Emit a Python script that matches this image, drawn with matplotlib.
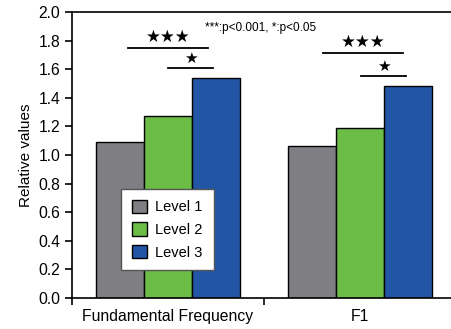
import numpy as np
import matplotlib.pyplot as plt

plt.rcParams['font.family'] = ['Liberation Sans', 'DejaVu Sans']

categories = ["Fundamental Frequency", "F1"]
levels = ["Level 1", "Level 2", "Level 3"]
values = [[1.09, 1.06],   # Level 1
          [1.27, 1.19],   # Level 2
          [1.54, 1.48]]   # Level 3
colors = ["#7f7f83", "#6cbd45", "#2256a5"]

# significance brackets: (x0, x1, y, label)
sig_lines = [(-0.21, 0.21, 1.75, "★★★"),
             (0.0, 0.235, 1.61, "★"),
             (0.805, 1.225, 1.71, "★★★"),
             (1.005, 1.24, 1.555, "★")]
note = "***:p<0.001, *:p<0.05"

fig = plt.figure(figsize=(4.51, 3.29), dpi=100)
ax = fig.add_axes([72/451, 31/329, 384/451, 286/329])

x = np.arange(len(categories))
w = 0.25
for i, lev in enumerate(levels):
    ax.bar(x + (i - 1)*w, values[i], w, color=colors[i], edgecolor="black",
           linewidth=1, label=lev)

for x0, x1, y, lab in sig_lines:
    ax.plot([x0, x1], [y, y], color="black", lw=1.3)
    ax.text((x0 + x1)/2, y + 0.015, lab, ha="center", va="bottom",
            fontsize=12 if len(lab) > 1 else 11, family="DejaVu Sans")

ax.text(0.195, 1.89, note, ha="left", va="center", fontsize=8.5)

ax.set_xlim(-0.5, 1.5)
ax.set_ylim(0, 2.0)
ax.set_yticks(np.arange(0, 2.01, 0.2))
ax.set_yticklabels([f"{v:.1f}" for v in np.arange(0, 2.01, 0.2)], fontsize=11.3)
ax.set_xticks(x)
ax.set_xticklabels(categories, fontsize=11.3)
ax.tick_params(axis="x", which="major", length=0, pad=8)
ax.set_xticks([-0.5, 0.5, 1.5], minor=True)
ax.tick_params(axis="x", which="minor", length=5, width=1.2, direction="out")
ax.tick_params(axis="y", length=5, width=1.2, direction="out")
ax.spines["right"].set_visible(False)
for s in ["left", "bottom", "top"]:
    ax.spines[s].set_linewidth(1.2)
ax.set_ylabel("Relative values", fontsize=11)

leg = ax.legend(loc="upper left", bbox_to_anchor=(121/451, 1 - 189/329),
                bbox_transform=fig.transFigure, fancybox=False, fontsize=10.5,
                handlelength=1.0, handleheight=1.0, handletextpad=0.6,
                framealpha=1, borderpad=0.75, labelspacing=0.55,
                borderaxespad=0)
leg.get_frame().set_edgecolor("#555555")

fig.savefig("out.png", dpi=100)
